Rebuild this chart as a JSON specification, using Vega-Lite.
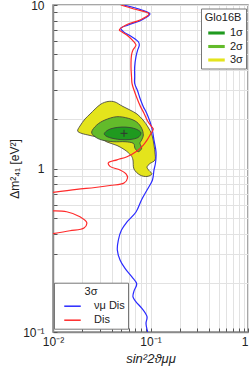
{
  "$schema": "https://vega.github.io/schema/vega-lite/v6.json",
  "width": 195,
  "height": 327,
  "autosize": {"type": "none"},
  "padding": {"left": 53, "top": 5, "right": 1, "bottom": 44},
  "background": "white",
  "config": {
    "font": "Liberation Sans",
    "view": {"stroke": "#8a8a8a", "strokeWidth": 1.5},
    "legend": {
      "labelFont": "Liberation Sans", "titleFont": "Liberation Sans",
      "labelFontSize": 11, "titleFontSize": 11, "titleFontWeight": "normal",
      "labelColor": "#222", "titleColor": "#222",
      "fillColor": "white", "strokeColor": "#777", "titleAnchor": "middle"
    }
  },
  "datasets": {
    "c3": [
      {"x":0.0179,"y":1.696,"level":"3σ"},{"x":0.0189,"y":1.819,"level":"3σ"},{"x":0.0213,"y":2.009,"level":"3σ"},{"x":0.0240,"y":2.154,"level":"3σ"},{"x":0.0270,"y":2.311,"level":"3σ"},{"x":0.0311,"y":2.481,"level":"3σ"},{"x":0.0367,"y":2.570,"level":"3σ"},{"x":0.0432,"y":2.552,"level":"3σ"},{"x":0.0510,"y":2.412,"level":"3σ"},{"x":0.0616,"y":2.279,"level":"3σ"},{"x":0.0727,"y":2.154,"level":"3σ"},{"x":0.0838,"y":1.980,"level":"3σ"},{"x":0.0943,"y":1.793,"level":"3σ"},{"x":0.1036,"y":1.603,"level":"3σ"},{"x":0.1086,"y":1.392,"level":"3σ"},{"x":0.1112,"y":1.244,"level":"3σ"},{"x":0.1112,"y":1.127,"level":"3σ"},{"x":0.0988,"y":1.073,"level":"3σ"},{"x":0.0921,"y":1.021,"level":"3σ"},{"x":0.0965,"y":0.972,"level":"3σ"},{"x":0.1036,"y":0.926,"level":"3σ"},{"x":0.0921,"y":0.894,"level":"3σ"},{"x":0.0780,"y":0.912,"level":"3σ"},{"x":0.0677,"y":0.993,"level":"3σ"},{"x":0.0661,"y":1.127,"level":"3σ"},{"x":0.0631,"y":1.201,"level":"3σ"},{"x":0.0548,"y":1.297,"level":"3σ"},{"x":0.0453,"y":1.383,"level":"3σ"},{"x":0.0358,"y":1.452,"level":"3σ"},{"x":0.0303,"y":1.537,"level":"3σ"},{"x":0.0240,"y":1.592,"level":"3σ"},{"x":0.0198,"y":1.637,"level":"3σ"}
    ],
    "c2": [
      {"x":0.0249,"y":1.672,"level":"2σ"},{"x":0.0281,"y":1.845,"level":"2σ"},{"x":0.0341,"y":1.980,"level":"2σ"},{"x":0.0450,"y":2.074,"level":"2σ"},{"x":0.0592,"y":2.028,"level":"2σ"},{"x":0.0722,"y":1.925,"level":"2σ"},{"x":0.0812,"y":1.762,"level":"2σ"},{"x":0.0844,"y":1.603,"level":"2σ"},{"x":0.0812,"y":1.494,"level":"2σ"},{"x":0.0780,"y":1.426,"level":"2σ"},{"x":0.0812,"y":1.329,"level":"2σ"},{"x":0.0750,"y":1.267,"level":"2σ"},{"x":0.0693,"y":1.329,"level":"2σ"},{"x":0.0666,"y":1.426,"level":"2σ"},{"x":0.0548,"y":1.458,"level":"2σ"},{"x":0.0415,"y":1.458,"level":"2σ"},{"x":0.0316,"y":1.494,"level":"2σ"},{"x":0.0270,"y":1.565,"level":"2σ"}
    ],
    "c1": [
      {"x":0.0336,"y":1.637,"level":"1σ"},{"x":0.0367,"y":1.720,"level":"1σ"},{"x":0.0422,"y":1.769,"level":"1σ"},{"x":0.0510,"y":1.793,"level":"1σ"},{"x":0.0616,"y":1.781,"level":"1σ"},{"x":0.0727,"y":1.732,"level":"1σ"},{"x":0.0799,"y":1.649,"level":"1σ"},{"x":0.0744,"y":1.547,"level":"1σ"},{"x":0.0616,"y":1.504,"level":"1σ"},{"x":0.0487,"y":1.504,"level":"1σ"},{"x":0.0394,"y":1.537,"level":"1σ"},{"x":0.0350,"y":1.580,"level":"1σ"}
    ],
    "best": [{"x":0.0535,"y":1.641}],
    "lines": [
      {"x":0.0526,"y":10,"series":"νμ Dis","part":"a"},{"x":0.0812,"y":9.32,"series":"νμ Dis","part":"a"},{"x":0.0988,"y":8.81,"series":"νμ Dis","part":"a"},{"x":0.0812,"y":8.10,"series":"νμ Dis","part":"a"},{"x":0.0592,"y":7.55,"series":"νμ Dis","part":"a"},{"x":0.0495,"y":7.20,"series":"νμ Dis","part":"a"},{"x":0.0526,"y":6.87,"series":"νμ Dis","part":"a"},{"x":0.0642,"y":6.40,"series":"νμ Dis","part":"a"},{"x":0.0750,"y":5.96,"series":"νμ Dis","part":"a"},{"x":0.0768,"y":5.69,"series":"νμ Dis","part":"a"},{"x":0.0739,"y":5.31,"series":"νμ Dis","part":"a"},{"x":0.0710,"y":4.83,"series":"νμ Dis","part":"a"},{"x":0.0688,"y":4.19,"series":"νμ Dis","part":"a"},{"x":0.0688,"y":3.64,"series":"νμ Dis","part":"a"},{"x":0.0688,"y":3.32,"series":"νμ Dis","part":"a"},{"x":0.0732,"y":3.02,"series":"νμ Dis","part":"a"},{"x":0.0780,"y":2.69,"series":"νμ Dis","part":"a"},{"x":0.0844,"y":2.39,"series":"νμ Dis","part":"a"},{"x":0.0914,"y":2.18,"series":"νμ Dis","part":"a"},{"x":0.0988,"y":1.93,"series":"νμ Dis","part":"a"},{"x":0.1043,"y":1.72,"series":"νμ Dis","part":"a"},{"x":0.1086,"y":1.49,"series":"νμ Dis","part":"a"},{"x":0.1139,"y":1.26,"series":"νμ Dis","part":"a"},{"x":0.1125,"y":1.08,"series":"νμ Dis","part":"a"},{"x":0.1086,"y":0.98,"series":"νμ Dis","part":"a"},{"x":0.1048,"y":0.851,"series":"νμ Dis","part":"a"},{"x":0.0921,"y":0.739,"series":"νμ Dis","part":"a"},{"x":0.0808,"y":0.642,"series":"νμ Dis","part":"a"},{"x":0.0710,"y":0.542,"series":"νμ Dis","part":"a"},{"x":0.0574,"y":0.471,"series":"νμ Dis","part":"a"},{"x":0.0504,"y":0.420,"series":"νμ Dis","part":"a"},{"x":0.0468,"y":0.365,"series":"νμ Dis","part":"a"},{"x":0.0457,"y":0.317,"series":"νμ Dis","part":"a"},{"x":0.0487,"y":0.276,"series":"νμ Dis","part":"a"},{"x":0.0548,"y":0.245,"series":"νμ Dis","part":"a"},{"x":0.0642,"y":0.218,"series":"νμ Dis","part":"a"},{"x":0.0722,"y":0.197,"series":"νμ Dis","part":"a"},{"x":0.0677,"y":0.178,"series":"νμ Dis","part":"a"},{"x":0.0661,"y":0.164,"series":"νμ Dis","part":"a"},{"x":0.0710,"y":0.153,"series":"νμ Dis","part":"a"},{"x":0.0812,"y":0.140,"series":"νμ Dis","part":"a"},{"x":0.0921,"y":0.124,"series":"νμ Dis","part":"a"},{"x":0.0899,"y":0.113,"series":"νμ Dis","part":"a"},{"x":0.0936,"y":0.1,"series":"νμ Dis","part":"a"},
      {"x":0.0495,"y":10,"series":"Dis","part":"a"},{"x":0.0677,"y":9.45,"series":"Dis","part":"a"},{"x":0.0965,"y":8.81,"series":"Dis","part":"a"},{"x":0.0780,"y":8.10,"series":"Dis","part":"a"},{"x":0.0561,"y":7.55,"series":"Dis","part":"a"},{"x":0.0479,"y":7.03,"series":"Dis","part":"a"},{"x":0.0510,"y":6.84,"series":"Dis","part":"a"},{"x":0.0588,"y":6.46,"series":"Dis","part":"a"},{"x":0.0677,"y":5.94,"series":"Dis","part":"a"},{"x":0.0710,"y":5.69,"series":"Dis","part":"a"},{"x":0.0661,"y":5.31,"series":"Dis","part":"a"},{"x":0.0639,"y":4.95,"series":"Dis","part":"a"},{"x":0.0631,"y":4.19,"series":"Dis","part":"a"},{"x":0.0639,"y":3.64,"series":"Dis","part":"a"},{"x":0.0646,"y":3.32,"series":"Dis","part":"a"},{"x":0.0677,"y":3.02,"series":"Dis","part":"a"},{"x":0.0727,"y":2.69,"series":"Dis","part":"a"},{"x":0.0790,"y":2.39,"series":"Dis","part":"a"},{"x":0.0858,"y":2.18,"series":"Dis","part":"a"},{"x":0.0943,"y":1.93,"series":"Dis","part":"a"},{"x":0.1036,"y":1.79,"series":"Dis","part":"a"},{"x":0.1068,"y":1.744,"series":"Dis","part":"a"},{"x":0.0988,"y":1.60,"series":"Dis","part":"a"},{"x":0.0921,"y":1.49,"series":"Dis","part":"a"},{"x":0.0844,"y":1.39,"series":"Dis","part":"a"},{"x":0.0727,"y":1.28,"series":"Dis","part":"a"},{"x":0.0574,"y":1.18,"series":"Dis","part":"a"},{"x":0.0453,"y":1.13,"series":"Dis","part":"a"},{"x":0.0369,"y":1.08,"series":"Dis","part":"a"},{"x":0.0384,"y":1.03,"series":"Dis","part":"a"},{"x":0.0487,"y":0.979,"series":"Dis","part":"a"},{"x":0.0561,"y":0.926,"series":"Dis","part":"a"},{"x":0.0581,"y":0.875,"series":"Dis","part":"a"},{"x":0.0535,"y":0.815,"series":"Dis","part":"a"},{"x":0.0384,"y":0.787,"series":"Dis","part":"a"},{"x":0.0270,"y":0.765,"series":"Dis","part":"a"},{"x":0.0175,"y":0.746,"series":"Dis","part":"a"},{"x":0.0100,"y":0.715,"series":"Dis","part":"a"},
      {"x":0.0100,"y":0.550,"series":"Dis","part":"b"},{"x":0.0138,"y":0.544,"series":"Dis","part":"b"},{"x":0.0189,"y":0.507,"series":"Dis","part":"b"},{"x":0.0222,"y":0.466,"series":"Dis","part":"b"},{"x":0.0208,"y":0.433,"series":"Dis","part":"b"},{"x":0.0149,"y":0.416,"series":"Dis","part":"b"},{"x":0.0100,"y":0.400,"series":"Dis","part":"b"}
    ]
  },
  "encoding": {
    "x": {
      "field": "x", "type": "quantitative",
      "scale": {"type": "log", "domain": [0.01, 1], "nice": false},
      "axis": {
        "title": "sin²2ϑμμ", "titleFontStyle": "italic", "titleFontWeight": "normal", "titleFontSize": 13, "titleColor": "#222", "titlePadding": 5,
        "values": [0.01,0.02,0.03,0.04,0.05,0.06,0.07,0.08,0.09,0.1,0.2,0.3,0.4,0.5,0.6,0.7,0.8,0.9,1],
        "labelExpr": "abs(datum.value-0.01)<1e-9 ? '10⁻²' : abs(datum.value-0.1)<1e-9 ? '10⁻¹' : abs(datum.value-1)<1e-9 ? '1' : ''",
        "labelAlign": {"condition": {"test": "datum.value > 0.95", "value": "right"}, "value": "center"},
        "labelFontSize": 12, "labelColor": "#222", "labelPadding": 8, "labelFlush": false, "labelOverlap": false,
        "tickSize": -4, "tickColor": "#555", "grid": true, "gridColor": "#e2e2e2",
        "domainColor": "#8a8a8a", "domainWidth": 1.5
      }
    },
    "y": {
      "field": "y", "type": "quantitative",
      "scale": {"type": "log", "domain": [0.1, 10], "nice": false},
      "axis": {
        "title": "Δm²₄₁  [eV²]", "titleFontWeight": "normal", "titleFontSize": 12, "titleColor": "#222", "titlePadding": 1,
        "values": [0.1,0.2,0.3,0.4,0.5,0.6,0.7,0.8,0.9,1,2,3,4,5,6,7,8,9,10],
        "labelExpr": "abs(datum.value-0.1)<1e-9 ? '10⁻¹' : abs(datum.value-1)<1e-9 ? '1' : abs(datum.value-10)<1e-9 ? '10' : ''",
        "labelFontSize": 12, "labelColor": "#222", "labelPadding": 13, "labelFlush": false, "labelOverlap": false,
        "tickSize": -4, "tickColor": "#555", "grid": true, "gridColor": "#e2e2e2",
        "domainColor": "#8a8a8a", "domainWidth": 1.5
      }
    }
  },
  "layer": [
    {
      "data": {"name": "c3"},
      "mark": {"type": "line", "interpolate": "cardinal-closed", "stroke": "#3a3a3a", "strokeWidth": 0.8, "clip": true},
      "encoding": {
        "fill": {"field": "level", "type": "nominal", "scale": {"domain": ["1σ","2σ","3σ"], "range": ["#1f9a1f","#63bb2b","#e4e41c"]},
          "legend": {"title": "Glo16B", "orient": "none", "legendX": 148, "legendY": 3.5, "padding": 3, "titlePadding": 5, "rowPadding": 1.5,
            "symbolType": "M-1.5,-0.28H1.5V0.28H-1.5Z", "symbolSize": 121, "symbolStrokeWidth": 0, "symbolOffset": 7, "labelOffset": 8}},
        "order": {"value": null}
      }
    },
    {
      "data": {"name": "c2"},
      "mark": {"type": "line", "interpolate": "cardinal-closed", "stroke": "#3a3a3a", "strokeWidth": 0.8, "clip": true},
      "encoding": {
        "fill": {"field": "level", "type": "nominal", "scale": {"domain": ["1σ","2σ","3σ"], "range": ["#1f9a1f","#63bb2b","#e4e41c"]},
          "legend": {"title": "Glo16B", "orient": "none", "legendX": 148, "legendY": 3.5, "padding": 3, "titlePadding": 5, "rowPadding": 1.5,
            "symbolType": "M-1.5,-0.28H1.5V0.28H-1.5Z", "symbolSize": 121, "symbolStrokeWidth": 0, "symbolOffset": 7, "labelOffset": 8}},
        "order": {"value": null}
      }
    },
    {
      "data": {"name": "c1"},
      "mark": {"type": "line", "interpolate": "cardinal-closed", "stroke": "#3a3a3a", "strokeWidth": 0.8, "clip": true},
      "encoding": {
        "fill": {"field": "level", "type": "nominal", "scale": {"domain": ["1σ","2σ","3σ"], "range": ["#1f9a1f","#63bb2b","#e4e41c"]},
          "legend": {"title": "Glo16B", "orient": "none", "legendX": 148, "legendY": 3.5, "padding": 3, "titlePadding": 5, "rowPadding": 1.5,
            "symbolType": "M-1.5,-0.28H1.5V0.28H-1.5Z", "symbolSize": 121, "symbolStrokeWidth": 0, "symbolOffset": 7, "labelOffset": 8}},
        "order": {"value": null}
      }
    },
    {
      "data": {"name": "best"},
      "mark": {"type": "point", "shape": "M-1,0L1,0M0,-1L0,1", "size": 49, "stroke": "#333", "strokeWidth": 1, "filled": false, "opacity": 1}
    },
    {
      "data": {"name": "lines"},
      "mark": {"type": "line", "interpolate": "catmull-rom", "strokeWidth": 1.2, "clip": true},
      "encoding": {
        "stroke": {"field": "series", "type": "nominal", "scale": {"domain": ["νμ Dis","Dis"], "range": ["#2a2aff","#ff2a2a"]},
          "legend": {"title": "3σ", "orient": "none", "legendX": 1, "legendY": 277.7, "padding": 3, "titlePadding": 3, "rowPadding": 2,
            "symbolType": "M-1.5,0H1.5", "symbolSize": 121, "symbolStrokeWidth": 1.5, "symbolOffset": 9, "labelOffset": 15}},
        "detail": {"field": "part"},
        "order": {"value": null}
      }
    }
  ]
}
